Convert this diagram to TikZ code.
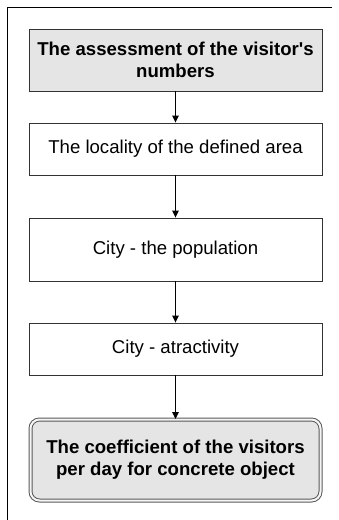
\documentclass[tikz,border=0pt]{standalone}
\usepackage{fontspec}
\setmainfont{Liberation Sans}
\usetikzlibrary{arrows.meta}
\begin{document}
\begin{tikzpicture}[x=1pt,y=-1pt,
  stepbox/.style={draw=black!80, line width=0.9pt, fill=white,
    minimum width=293pt, inner sep=0pt, align=center,
    font=\fontsize{18.6pt}{22pt}\selectfont},
  headbox/.style={stepbox, fill=black!10, font=\fontsize{18.6pt}{22pt}\selectfont\bfseries},
  endbox/.style={stepbox, fill=black!10, rounded corners=9pt,
    draw=black!65, double=black!4, double distance=2pt, line width=1pt,
    font=\fontsize{18.6pt}{22pt}\selectfont\bfseries},
  flow/.style={draw=black, line width=0.9pt, -{Triangle[length=7pt,width=6.5pt]}}]
  \useasboundingbox (0,0) rectangle (339,520);
  % outer frame: only its left and top sides are in view
  \coordinate (fb) at (7.5,520);
  \coordinate (fc) at (7.5,7);
  \coordinate (fr) at (332,7);
  \draw[line width=1pt] (fb) -- (fc) -- (fr);

  \node[headbox, minimum height=62pt] (b1) at (175.5,60) {The assessment of the visitor\textquotesingle s\\numbers};
  \node[stepbox, minimum height=52pt] (b2) at (175.5,149) {The locality of the defined area};
  \node[stepbox, minimum height=63pt] (b3) at (175.5,249.5) {City - the population};
  \node[stepbox, minimum height=52pt] (b4) at (175.5,349) {City - atractivity};
  \node[endbox, minimum width=290pt, minimum height=81pt] (b5) at (175.5,460) {The coefficient of the visitors\\per day for concrete object};

  \draw[flow] (b1) -- (b2);
  \draw[flow] (b2) -- (b3);
  \draw[flow] (b3) -- (b4);
  \draw[flow] (b4) -- (b5);
\end{tikzpicture}
\end{document}
